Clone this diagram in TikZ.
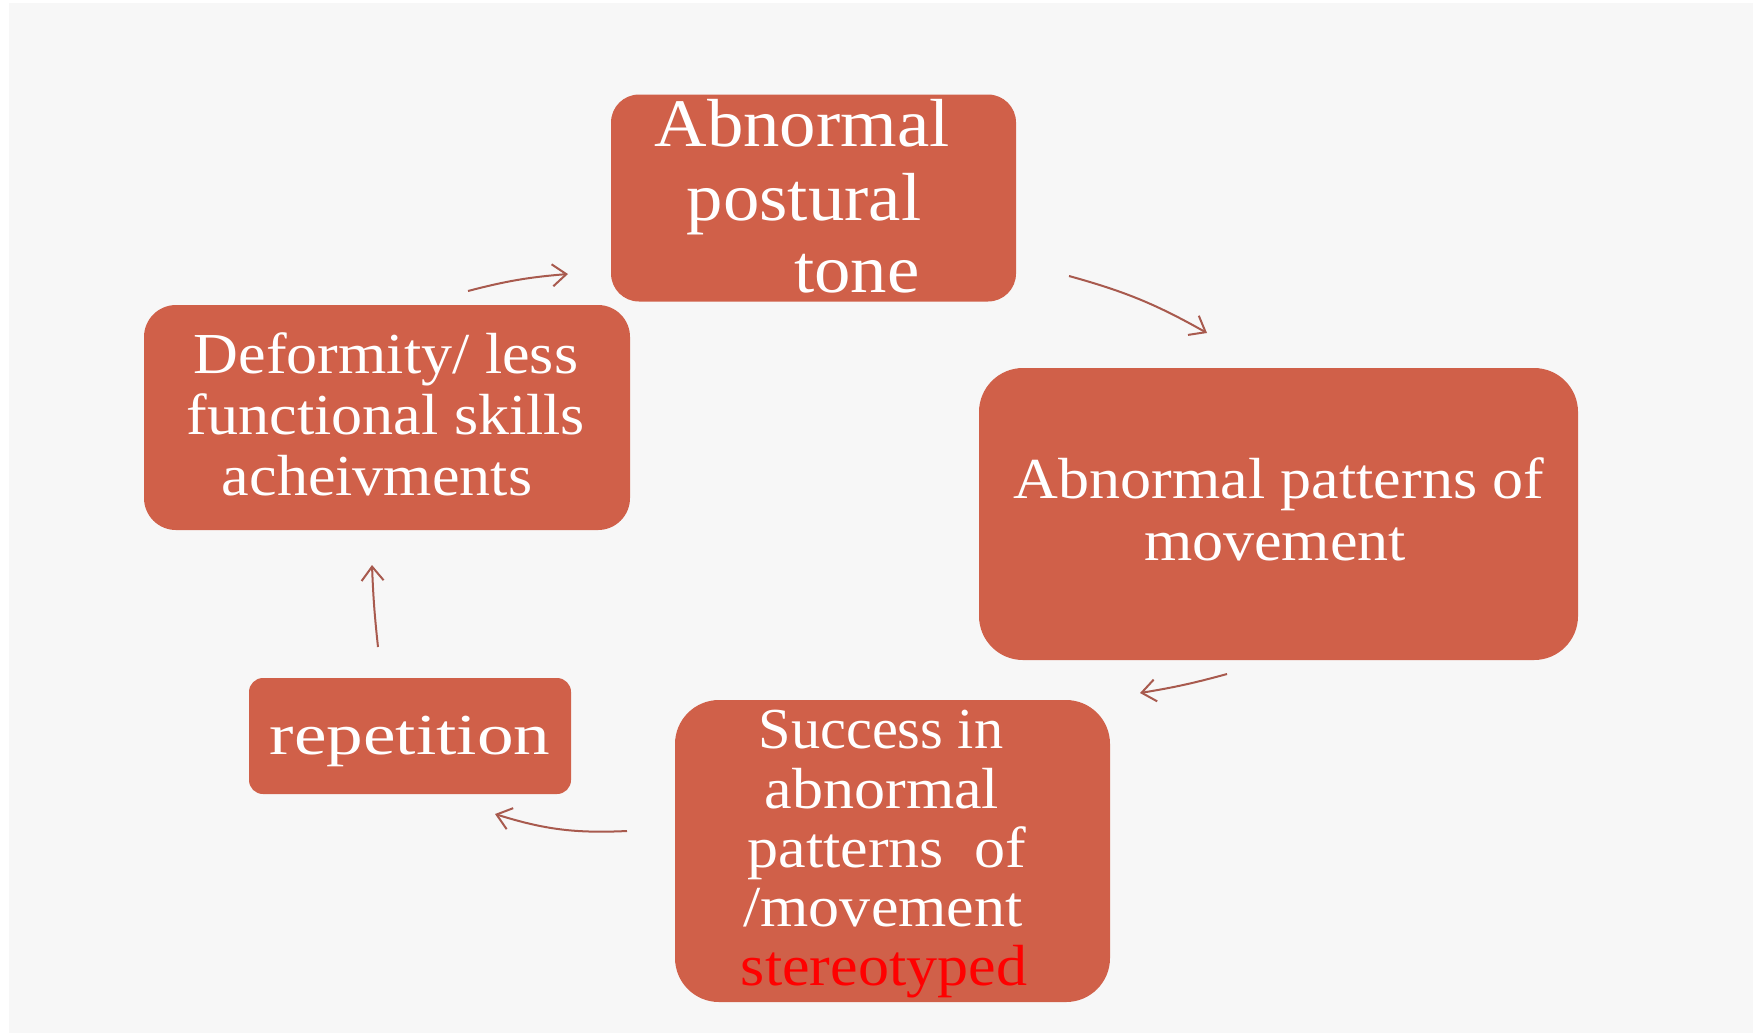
\documentclass[tikz,border=0pt]{standalone}
\usepackage{fontspec}
\setmainfont{Liberation Serif}[FakeStretch=1.07]
\usetikzlibrary{arrows.meta}
\definecolor{boxfill}{HTML}{D06049}
\definecolor{arrowc}{HTML}{A85A4E}
\definecolor{bgc}{HTML}{F7F7F7}
\begin{document}
\begin{tikzpicture}[x=0.5pt,y=-0.5pt,
  boxsty/.style={fill=boxfill,draw=none,inner sep=0pt},
  txt/.style={text=white,inner sep=0pt,anchor=base,font=\fontsize{29}{30}\selectfont},
  toptxt/.style={txt,font=\fontsize{34}{36}\selectfont},
  arr/.style={draw=arrowc,line width=1pt,-{Straight Barb[length=7pt,width=11pt]}}]
\useasboundingbox (0,0) rectangle (1764,1035);
\fill[white] (0,0) rectangle (1764,1035);
\fill[bgc] (9,3) rectangle (1753,1033);
% boxes
\node[boxsty,rounded corners=14pt,minimum width=202.5pt,minimum height=103.5pt] (top) at (813.5,198) {};
\node[boxsty,rounded corners=22pt,minimum width=299.5pt,minimum height=146pt] (right) at (1278.5,514) {};
\node[boxsty,rounded corners=22pt,minimum width=217.5pt,minimum height=151pt] (bottom) at (892.5,851) {};
\node[boxsty,rounded corners=7pt,minimum width=161pt,minimum height=58pt] (rep) at (410,736) {};
\node[boxsty,rounded corners=16pt,minimum width=243pt,minimum height=112.5pt] (left) at (387,417.5) {};
% texts
\node[toptxt] (t1) at (802,146) {Abnormal};
\node[toptxt] (t2) at (804,220) {postural};
\node[toptxt] (t3) at (857,292) {tone};
\node[txt] (r1) at (1279,498) {Abnormal patterns of};
\node[txt] (r2) at (1275,560) {movement};
\node[txt] (l1) at (386,373) {Deformity/ less};
\node[txt] (l2) at (386,434) {functional skills};
\node[txt] (l3) at (377,495) {acheivments};
\node[txt] (p1) at (410,754) {\scalebox{1.18}[1]{repetition}};
\node[txt] (b1) at (881,748) {\scalebox{0.94}[1]{Success in}};
\node[txt] (b2) at (882,808) {abnormal};
\node[txt] (b3) at (887,867) {patterns\ \ of};
\node[txt] (b4) at (883,926) {/movement};
\node[txt,text=red] (b5) at (884,985) {stereotyped};
% arrow end points
\coordinate (a1s) at (468,291); \coordinate (a1e) at (568,274);
\coordinate (a2s) at (1069,276); \coordinate (a2e) at (1207,333);
\coordinate (a3s) at (1227,674); \coordinate (a3e) at (1140,693);
\coordinate (a4s) at (627,831); \coordinate (a4e) at (495,814);
\coordinate (a5s) at (378,647); \coordinate (a5e) at (372,565);
\draw[arr] (a1s) to[bend left=5] (a1e);
\draw[arr] (a2s) to[bend left=7] (a2e);
\draw[arr] (a3s) to[bend left=3] (a3e);
\draw[arr] (a4s) to[bend left=10] (a4e);
\draw[arr] (a5s) to[bend left=2] (a5e);
\end{tikzpicture}
\end{document}
